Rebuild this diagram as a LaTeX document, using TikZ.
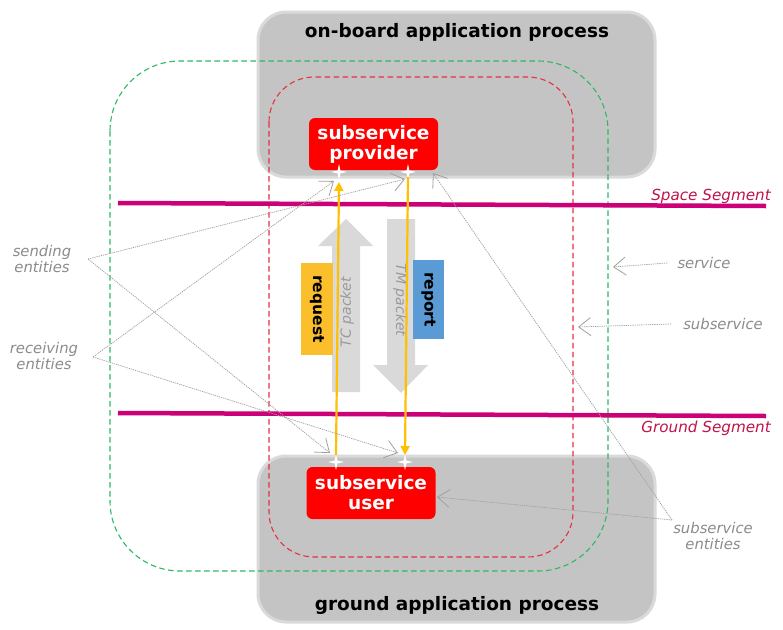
\documentclass[tikz,border=0pt]{standalone}
\usepackage{fontspec}
\setmainfont{DejaVu Sans}
\usetikzlibrary{arrows.meta,shapes.geometric}
\definecolor{procgray}{HTML}{C4C4C4}
\definecolor{procedge}{HTML}{DADADA}
\definecolor{svcgreen}{HTML}{2DB866}
\definecolor{subred}{HTML}{E83040}
\definecolor{boxred}{HTML}{FF0000}
\definecolor{segmag}{HTML}{CC0077}
\definecolor{seglabel}{HTML}{C0144C}
\definecolor{flowcol}{HTML}{FFC000}
\definecolor{pkt}{HTML}{D9D9D9}
\definecolor{pkttext}{HTML}{9A9A9A}
\definecolor{reqyellow}{HTML}{FBBF2B}
\definecolor{repblue}{HTML}{5B9BD5}
\definecolor{annotcol}{HTML}{A0A0A0}
\definecolor{labgray}{HTML}{8C8C8C}
\begin{document}
\begin{tikzpicture}[x=1pt,y=-1pt,
  process/.style={fill=procgray, draw=procedge, line width=3pt, rounded corners=28pt},
  ptitle/.style={font=\fontsize{18.5}{22}\selectfont\bfseries, text=black},
  entity/.style={fill=boxred, rounded corners=6pt, text=white,
    font=\fontsize{18.5}{20}\selectfont\bfseries, align=center,
    minimum width=129pt, minimum height=52pt, inner sep=0pt},
  svcline/.style={draw=svcgreen, line width=1.1pt, dash pattern=on 5.5pt off 3.5pt, rounded corners=70pt},
  subline/.style={draw=subred, line width=1.1pt, dash pattern=on 5.5pt off 3.5pt, rounded corners=45pt},
  segline/.style={draw=segmag, line width=4.5pt},
  seglab/.style={font=\fontsize{15.2}{17}\selectfont\itshape, text=seglabel, anchor=east, inner sep=0pt},
  flow/.style={draw=flowcol, line width=2.2pt, -{Triangle[length=9pt,width=9pt]}},
  spark/.style={star, star points=4, star point ratio=4, fill=white, minimum size=16pt, inner sep=0pt},
  packet/.style={fill=pkt},
  pkttxt/.style={font=\fontsize{14}{16}\selectfont\itshape, text=pkttext, inner sep=0pt},
  tag/.style={font=\fontsize{15.5}{17}\selectfont\bfseries, text=black, inner sep=0pt},
  annot/.style={draw=annotcol, line width=0.7pt, dash pattern=on 1.3pt off 0.9pt,
    -{Straight Barb[length=12pt,width=18pt,line width=0.8pt]}},
  lab/.style={font=\fontsize{14.8}{15.5}\selectfont\itshape, text=labgray, align=center, inner sep=0pt}
]
\useasboundingbox (0,0) rectangle (783,629);
\fill[white] (0,0) rectangle (783,629);

% application processes
\draw[process] (258,12) rectangle (655,177);
\draw[process] (258,456) rectangle (655,622);
\node[ptitle] (obtitle) at (457,32) {on-board application process};
\node[ptitle] (gtitle) at (457,605) {ground application process};

% service / subservice boundaries
\draw[svcline] (110,61) rectangle (608,571);
\draw[subline] (269,77) rectangle (573,557);

% segment lines
\coordinate (ssL) at (118,203); \coordinate (ssR) at (766,206);
\coordinate (gsL) at (118,413); \coordinate (gsR) at (766,416);
\draw[segline] (ssL) -- (ssR);
\draw[segline] (gsL) -- (gsR);
\node[seglab] (spacelab) at (771,196) {Space Segment};
\node[seglab] (groundlab) at (771,428) {Ground Segment};

% packet arrows
\fill[packet] (332,392) -- (332,246) -- (318,246) -- (346,219) -- (373,246) -- (360,246) -- (360,392) -- cycle;
\fill[packet] (387,219) -- (415,219) -- (415,365) -- (428,365) -- (401,393) -- (373,365) -- (387,365) -- cycle;
\node[pkttxt, rotate=90] (tc) at (347,312) {TC packet};
\node[pkttxt, rotate=-90] (tm) at (400,300) {TM packet};

\node[fill=reqyellow, rotate=-90, minimum width=92pt, minimum height=32pt, inner sep=0pt] (req) at (317,309) {};
\node[tag, rotate=-90] (reqtxt) at (317,309) {request};
\node[fill=repblue, rotate=-90, minimum width=79pt, minimum height=31pt, inner sep=0pt] (rep) at (428.5,299.5) {};
\node[tag, rotate=-90] (reptxt) at (428.5,299.5) {report};

% entities
\node[entity] (prov) at (373.5,144) {subservice\\provider};
\node[entity] (user) at (371,493) {subservice\\user};

% sparkles and flows
\node[spark] (s1) at (339,172) {};
\node[spark] (s2) at (408,172) {};
\node[spark] (s3) at (336,462) {};
\node[spark] (s4) at (405,462) {};
\draw[flow] ([yshift=7pt]s3.center) -- ([yshift=-10pt]s1.center);
\draw[flow] ([yshift=-5pt]s2.center) -- ([yshift=7pt]s4.center);

% annotation labels
\node[lab] (sendlab) at (42,259) {sending\\entities};
\node[lab] (recvlab) at (44,356) {receiving\\entities};
\node[lab] (svclab) at (704,263) {service};
\node[lab] (sublab) at (723,324) {subservice};
\node[lab] (entlab) at (713,536) {subservice\\entities};

\coordinate (sendpt) at (88,259);
\coordinate (recvpt) at (93,357);
\coordinate (entpt) at (672,520);
\coordinate (t1) at (405,179);
\coordinate (t2) at (330,453);
\coordinate (t3) at (334,181);
\coordinate (t4) at (398,453);
\coordinate (t5) at (437,497);
\coordinate (t6) at (433,173);
\coordinate (t7) at (613,267);
\coordinate (t8) at (578,327);

\draw[annot] (sendpt) -- (t1);
\draw[annot] (sendpt) -- (t2);
\draw[annot] (recvpt) -- (t3);
\draw[annot] (recvpt) -- (t4);
\draw[annot] (entpt) -- (t5);
\draw[annot] (entpt) -- (t6);
\draw[annot] ([xshift=-10pt]svclab.west) -- (t7);
\draw[annot] ([xshift=-12pt]sublab.west) -- (t8);
\end{tikzpicture}
\end{document}
